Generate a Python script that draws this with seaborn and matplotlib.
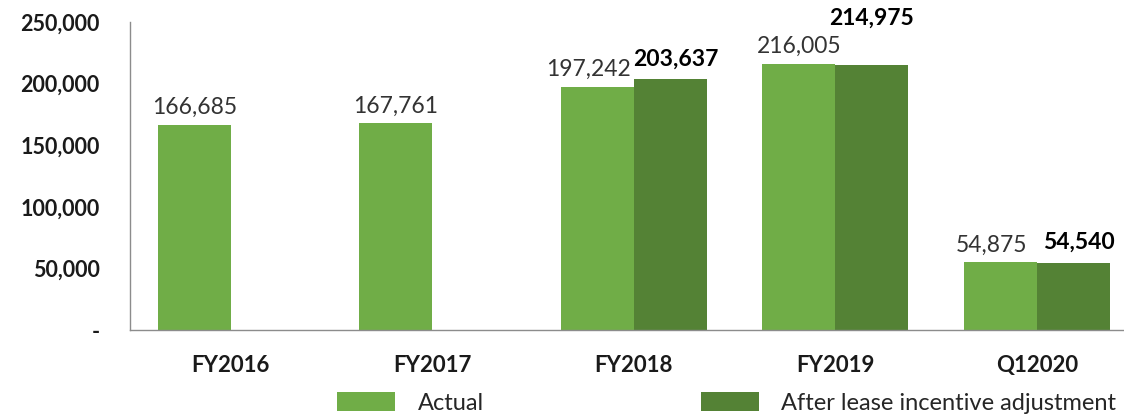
import matplotlib
matplotlib.use("Agg")
import matplotlib.pyplot as plt
import numpy as np
import pandas as pd
import seaborn as sns
from matplotlib.patches import Patch

categories = ["FY2016", "FY2017", "FY2018", "FY2019", "Q12020"]
actual = [166685, 167761, 197242, 216005, 54875]
adjusted = [np.nan, np.nan, 203637, 214975, 54540]
series = ["Actual", "After lease incentive adjustment"]
colors = ["#70AD47", "#548235"]
yticks = [0, 50000, 100000, 150000, 200000, 250000]
ytick_labels = ["-", "50,000", "100,000", "150,000", "200,000", "250,000"]

df = pd.DataFrame({
    "period": categories * 2,
    "series": [series[0]] * len(categories) + [series[1]] * len(categories),
    "value": actual + adjusted,
})

sns.set_style("white")
plt.rcParams["font.family"] = ["Lato", "DejaVu Sans"]

fig = plt.figure(figsize=(11.24, 4.19), dpi=100)
# plot area runs past the right edge of the canvas, as in the source image
ax = fig.add_axes([0.1157, 0.2124, 0.8964, 0.735])

sns.barplot(data=df, x="period", y="value", hue="series", order=categories,
            hue_order=series, palette=colors, width=0.725, gap=0,
            errorbar=None, saturation=1, linewidth=0, ax=ax, legend=False)

ax.set_ylim(0, 250000)
ax.set_xlim(-0.5, len(categories) - 0.5)
ax.set_yticks(yticks)
ax.set_yticklabels(ytick_labels, fontsize=15.5, fontweight="bold", color="#1a1a1a")
ax.set_xticks(range(len(categories)))
ax.set_xticklabels(categories, fontsize=16, fontweight="bold", color="#1a1a1a")
ax.tick_params(axis="x", length=0, pad=18)
ax.tick_params(axis="y", length=0, pad=22)
ax.set_xlabel("")
ax.set_ylabel("")
for s in ["top", "right"]:
    ax.spines[s].set_visible(False)
for s in ["left", "bottom"]:
    ax.spines[s].set_color("#8c8c8c")
    ax.spines[s].set_linewidth(1)

# value labels: plain for actual, bold for adjusted.
# Where both bars carry a label side by side, push them apart a little;
# FY2019's adjusted label sits higher instead.
paired = [not np.isnan(v) for v in adjusted]
styles = [("normal", "#333333", 5, -6), ("bold", "#000000", 7, 4)]
for cont, (weight, col, pad, nudge) in zip(ax.containers, styles):
    for bar in cont:
        if bar is None or np.isnan(bar.get_height()):
            continue
        xc = bar.get_x() + bar.get_width() / 2
        i = int(round(xc))
        lifted = categories[i] == "FY2019"
        dy = pad + (19 if (weight == "bold" and lifted) else 0)
        dx = nudge if (paired[i] and not lifted) else 0
        ax.annotate(f"{bar.get_height():,.0f}", (xc, bar.get_height()),
                    xytext=(dx, dy), textcoords="offset points",
                    ha="center", va="bottom", fontsize=16.5,
                    fontweight=weight, color=col, annotation_clip=False)

handles = [Patch(facecolor=c, edgecolor="none") for c in colors]
fig.legend(handles, series, loc="center", bbox_to_anchor=(0.6465, 0.038),
           ncol=2, frameon=False, handlelength=2.45,
           handleheight=0.85, handletextpad=0.95, columnspacing=9.2,
           prop={"family": ["Lato", "DejaVu Sans"], "weight": "normal", "size": 17})
for t in fig.legends[0].get_texts():
    t.set_color("#262626")

fig.savefig("out.png", dpi=100)
